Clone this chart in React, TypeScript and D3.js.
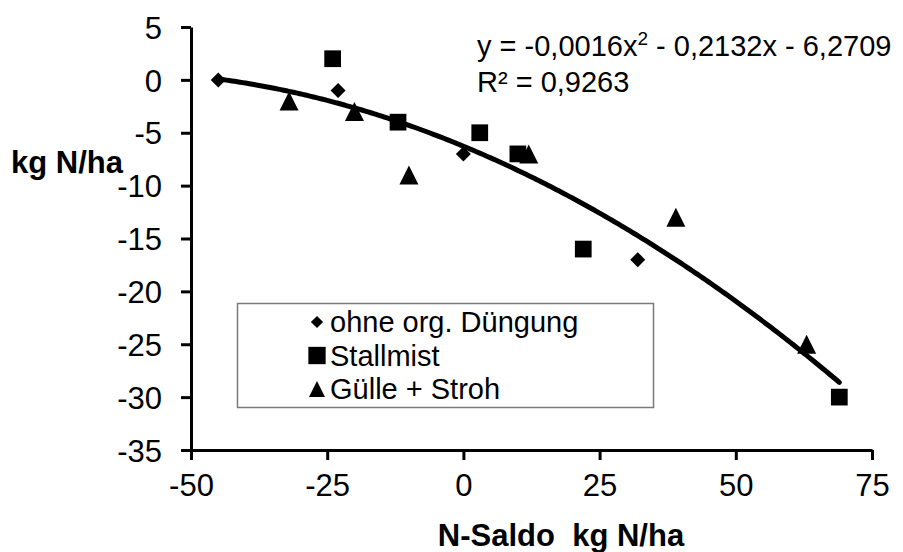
import React, { useEffect, useRef } from 'react';
import * as d3 from 'd3';

// data
const ohneX = [-45, -23, 0, 32];
const ohneY = [0, -1, -7, -17];
const stallX = [-24, -12, 3, 10, 22, 69];
const stallY = [2, -4, -5, -7, -16, -30];
const guelleX = [-32, -20, -10, 12, 39, 63];
const guelleY = [-2, -3, -9, -7, -13, -25];

const seriesNames = ['ohne org. Düngung', 'Stallmist', 'Gülle + Stroh'];
const xTicks = [-50, -25, 0, 25, 50, 75];
const yTicks = [5, 0, -5, -10, -15, -20, -25, -30, -35];
// polynomial trend line: a*x^2 + b*x + c
const trendCoef = [-0.0016, -0.2132, -6.2709];
const r2Text = '0,9263';

const W = 903;
const H = 552;
const FONT = '"Liberation Sans", Arial, sans-serif';

// square triangle (width == height), centred on its box
const boxTriangle = {
  draw(ctx: any, size: number) {
    const s = Math.sqrt(size);
    ctx.moveTo(0, -s / 2);
    ctx.lineTo(s / 2, s / 2);
    ctx.lineTo(-s / 2, s / 2);
    ctx.closePath();
  }
};
const diamond = {
  draw(ctx: any, size: number) {
    const r = Math.sqrt(size) / 2;
    ctx.moveTo(0, -r);
    ctx.lineTo(r, 0);
    ctx.lineTo(0, r);
    ctx.lineTo(-r, 0);
    ctx.closePath();
  }
};

export default function App() {
  const ref = useRef<SVGSVGElement>(null);

  useEffect(() => {
    const svg = d3.select(ref.current);
    svg.selectAll('*').remove();

    const x = d3.scaleLinear().domain([-50, 75]).range([191, 872]);
    const y = d3.scaleLinear().domain([-35, 5]).range([450, 27]);

    // axes
    const xAxis = svg.append('g')
      .attr('transform', `translate(0,${y(-35)})`)
      .call(d3.axisBottom(x).tickValues(xTicks).tickFormat(d => String(d)).tickSize(10).tickPadding(14).tickSizeOuter(0));
    const yAxis = svg.append('g')
      .attr('transform', `translate(${x(-50)},0)`)
      .call(d3.axisLeft(y).tickValues(yTicks).tickFormat(d => String(d)).tickSize(10).tickPadding(19).tickSizeOuter(0));

    [xAxis, yAxis].forEach(g => {
      g.select('.domain').attr('stroke', '#000').attr('stroke-width', 3);
      g.selectAll('.tick line').attr('stroke', '#000').attr('stroke-width', 3);
      g.selectAll('.tick text')
        .attr('fill', '#000')
        .style('font-family', FONT)
        .style('font-size', '31px');
    });
    xAxis.selectAll('.tick text').attr('dy', '0.71em');
    yAxis.selectAll('.tick text').attr('dy', '0.36em');

    // trend line
    const [a, b, c] = trendCoef;
    const allX = ohneX.concat(stallX, guelleX);
    const [x0, x1] = d3.extent(allX) as [number, number];
    const trendPts = d3.range(x0, x1 + 0.01, 0.5).map(v => [v, a * v * v + b * v + c]);
    svg.append('path')
      .attr('d', d3.line().x(d => x(d[0])).y(d => y(d[1]))(trendPts as [number, number][]))
      .attr('fill', 'none')
      .attr('stroke', '#000')
      .attr('stroke-width', 5)
      .attr('stroke-linecap', 'round');

    // points
    const groups = [
      { xs: ohneX, ys: ohneY, type: diamond, size: 225 },
      { xs: stallX, ys: stallY, type: d3.symbolSquare, size: 280 },
      { xs: guelleX, ys: guelleY, type: boxTriangle, size: 361 }
    ];
    groups.forEach(gr => {
      svg.append('g')
        .selectAll('path')
        .data(gr.xs.map((v, i) => [v, gr.ys[i]]))
        .enter()
        .append('path')
        .attr('transform', d => `translate(${x(d[0])},${y(d[1])})`)
        .attr('d', d3.symbol().type(gr.type as any).size(gr.size)() as string)
        .attr('fill', '#000');
    });

    // legend
    const lg = svg.append('g');
    lg.append('rect')
      .attr('x', 237.5).attr('y', 303.5)
      .attr('width', 416).attr('height', 104)
      .attr('fill', '#fff')
      .attr('stroke', '#7a7a7a')
      .attr('stroke-width', 1.5);
    const legendMarks = [
      { type: diamond, size: 150 },
      { type: d3.symbolSquare, size: 300 },
      { type: boxTriangle, size: 256 }
    ];
    seriesNames.forEach((name, i) => {
      const cy = 322 + i * 33.5;
      lg.append('path')
        .attr('transform', `translate(317,${cy})`)
        .attr('d', d3.symbol().type(legendMarks[i].type as any).size(legendMarks[i].size)() as string)
        .attr('fill', '#000');
      lg.append('text')
        .attr('x', 330).attr('y', cy + 10)
        .style('font-family', FONT)
        .style('font-size', '29px')
        .attr('fill', '#000')
        .text(name);
    });

    // equation
    const fmt = (v: number) => Math.abs(v).toFixed(4).replace('.', ',');
    const eq = svg.append('text')
      .attr('x', 477).attr('y', 56)
      .style('font-family', FONT)
      .style('font-size', '29px')
      .attr('fill', '#000');
    eq.append('tspan').text(`y = ${a < 0 ? '-' : ''}${fmt(a)}x`);
    eq.append('tspan').attr('dy', -11).style('font-size', '19px').text('2');
    eq.append('tspan').attr('dy', 11).text(` ${b < 0 ? '-' : '+'} ${fmt(b)}x ${c < 0 ? '-' : '+'} ${fmt(c)}`);
    svg.append('text')
      .attr('x', 477).attr('y', 92)
      .style('font-family', FONT)
      .style('font-size', '29px')
      .attr('fill', '#000')
      .text(`R² = ${r2Text}`);

    // axis titles
    svg.append('text')
      .attr('x', 561).attr('y', 546)
      .attr('text-anchor', 'middle')
      .style('font-family', FONT)
      .style('font-size', '31px')
      .style('font-weight', 'bold')
      .style('white-space', 'pre')
      .attr('fill', '#000')
      .text('N-Saldo  kg N/ha');
    svg.append('text')
      .attr('x', 11).attr('y', 173)
      .style('font-family', FONT)
      .style('font-size', '31px')
      .style('font-weight', 'bold')
      .attr('fill', '#000')
      .text('kg N/ha');
  }, []);

  return (
    <div style={{ position: 'absolute', left: 0, top: 0, background: '#fff' }}>
      <svg ref={ref} width={W} height={H} style={{ display: 'block' }} />
    </div>
  );
}
